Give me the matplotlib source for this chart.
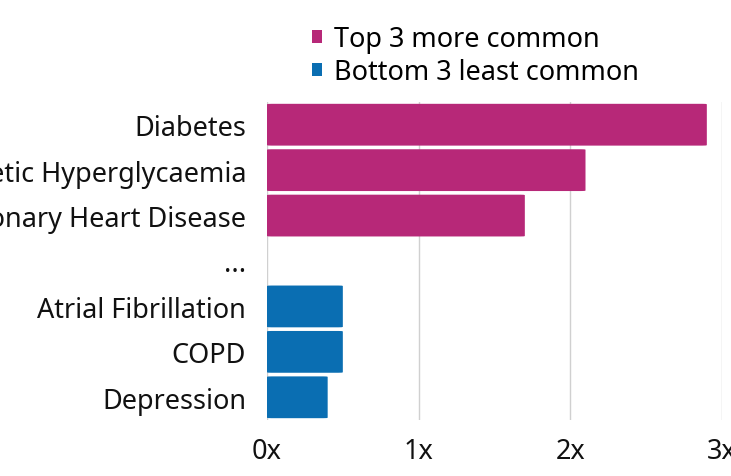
import matplotlib
matplotlib.use("Agg")
import matplotlib.pyplot as plt
from matplotlib.patches import FancyBboxPatch, Patch

# data, top to bottom
categories = ["Diabetes", "Non-Diabetic Hyperglycaemia", "Coronary Heart Disease",
              "...", "Atrial Fibrillation", "COPD", "Depression"]
values = [2.9, 2.1, 1.7, 0.0, 0.5, 0.5, 0.4]
groups = ["top", "top", "top", None, "bottom", "bottom", "bottom"]
tick_vals = [0, 1, 2, 3]
tick_labels = ["0x", "1x", "2x", "3x"]

colors = {"top": "#B72878", "bottom": "#0A6EB2"}
legend_labels = {"top": "Top 3 more common", "bottom": "Bottom 3 least common"}

plt.rcParams["font.family"] = ["Noto Sans", "DejaVu Sans"]
fs = 19.5

fig = plt.figure(figsize=(7.31, 4.77), dpi=100)
ax = fig.add_axes([267 / 731, 1 - 421 / 477, (722 - 267) / 731, (421 - 103) / 477])

bar_h = 0.92
for i, (v, g) in enumerate(zip(values, groups)):
    if g is None or v <= 0:
        continue
    # rounded bar drawn in data coords
    box = FancyBboxPatch((0, i - bar_h / 2), v, bar_h,
                         boxstyle="round,pad=0,rounding_size=0.03",
                         mutation_aspect=1 / 3.3,
                         facecolor=colors[g], edgecolor="none", zorder=3)
    ax.add_patch(box)

ax.set_xlim(0, 3)
ax.set_ylim(len(categories) - 0.5, -0.5)
ax.set_yticks(range(len(categories)))
ax.set_yticklabels(categories, fontsize=fs, color="#111111")
ax.set_xticks(tick_vals)
ax.set_xticklabels(tick_labels, fontsize=fs, color="#111111")
ax.tick_params(axis="both", length=0)
ax.tick_params(axis="y", pad=15)
ax.tick_params(axis="x", pad=12)

ax.grid(axis="x", color="#d0d0d0", linewidth=1, zorder=0)
ax.set_axisbelow(True)
for s in ax.spines.values():
    s.set_visible(False)

handles = [Patch(facecolor=colors[k], label=legend_labels[k]) for k in ["top", "bottom"]]
fig.legend(handles=handles, loc="upper left", bbox_to_anchor=(312 / 731, 1 - 26 / 477),
           frameon=False, fontsize=fs, handlelength=0.38, handleheight=0.38,
           handletextpad=0.42, labelspacing=0.18, borderaxespad=0, borderpad=0)

fig.savefig("out.png", dpi=100)
